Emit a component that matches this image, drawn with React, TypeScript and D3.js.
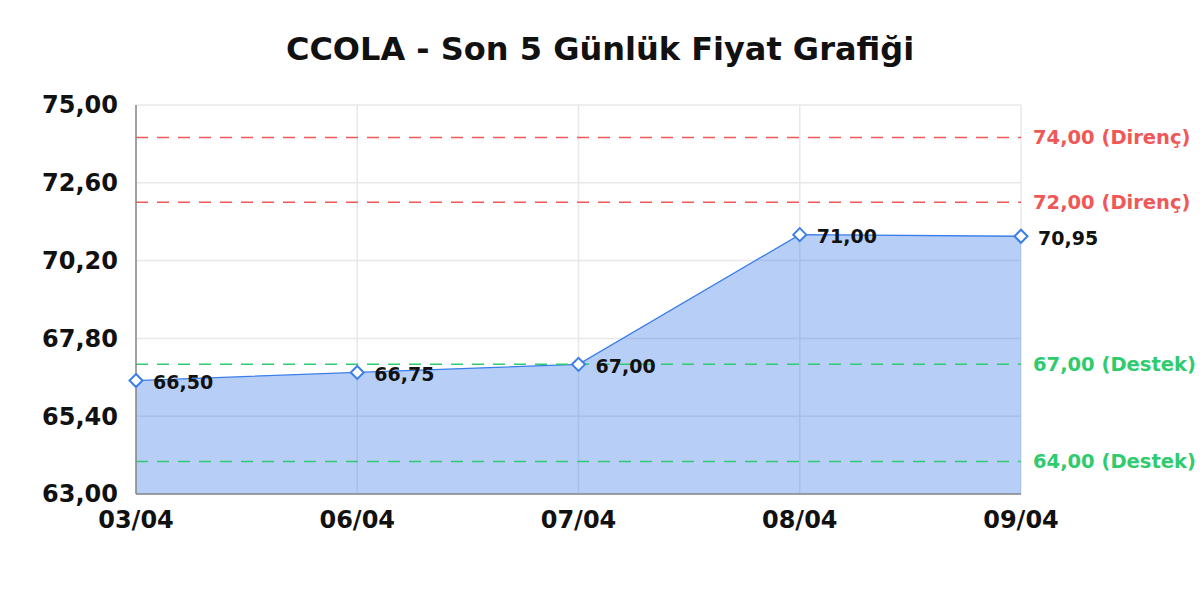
import React from 'react';
import * as d3 from 'd3';

// Chart data
const dates = ['03/04', '06/04', '07/04', '08/04', '09/04'];
const prices = [66.5, 66.75, 67.0, 71.0, 70.95];
const yTicks = [63, 65.4, 67.8, 70.2, 72.6, 75];
const resistance = [74, 72];
const support = [67, 64];

const W = 1200;
const H = 600;
const margin = { top: 105, right: 179, bottom: 106, left: 136 };
const FONT = '"DejaVu Sans", sans-serif';
const BLUE = '#3b7ee9';
const RED = '#f05858';
const GREEN = '#2fcb6e';

const fmt = (v: number) => v.toFixed(2).replace('.', ',');

const App: React.FC = () => {
  const innerW = W - margin.left - margin.right;
  const innerH = H - margin.top - margin.bottom;

  const x = d3.scalePoint<string>().domain(dates).range([0, innerW]);
  const y = d3.scaleLinear().domain([63, 75]).range([innerH, 0]);

  const points = dates.map((d, i) => ({ date: d, value: prices[i] }));

  const area = d3
    .area<{ date: string; value: number }>()
    .x(d => x(d.date) as number)
    .y0(innerH)
    .y1(d => y(d.value));

  const line = d3
    .line<{ date: string; value: number }>()
    .x(d => x(d.date) as number)
    .y(d => y(d.value));

  const diamond = 'M0,-6.5L6.5,0L0,6.5L-6.5,0Z';

  const refLines = [
    ...resistance.map(v => ({ v, color: RED, label: `${fmt(v)} (Direnç)` })),
    ...support.map(v => ({ v, color: GREEN, label: `${fmt(v)} (Destek)` }))
  ];

  return (
    <svg width={W} height={H} style={{ display: 'block', position: 'absolute', left: 0, top: 0 }}>
      <rect width={W} height={H} fill="#fff" />
      <text
        x={W / 2}
        y={60}
        textAnchor="middle"
        fontFamily={FONT}
        fontWeight="bold"
        fontSize={32}
        fill="#111"
      >
        CCOLA - Son 5 Günlük Fiyat Grafiği
      </text>

      <g transform={`translate(${margin.left},${margin.top})`}>
        {/* grid */}
        {yTicks.map(t => (
          <line key={`gy${t}`} x1={0} x2={innerW} y1={y(t)} y2={y(t)} stroke="#e8e8e8" strokeWidth={1.5} />
        ))}
        {dates.map(d => (
          <line key={`gx${d}`} x1={x(d)} x2={x(d)} y1={0} y2={innerH} stroke="#e8e8e8" strokeWidth={1.5} />
        ))}

        {/* area + line */}
        <path d={area(points) || ''} fill={BLUE} fillOpacity={0.37} />
        <path d={line(points) || ''} fill="none" stroke={BLUE} strokeWidth={1.3} />

        {/* support / resistance */}
        {refLines.map(r => (
          <g key={`r${r.v}`}>
            <line
              x1={0}
              x2={innerW}
              y1={y(r.v)}
              y2={y(r.v)}
              stroke={r.color}
              strokeWidth={1.5}
              strokeDasharray="12,9"
            />
            <text
              x={innerW + 12}
              y={y(r.v)}
              dy="0.35em"
              fontFamily={FONT}
              fontWeight="bold"
              fontSize={19.5}
              fill={r.color}
            >
              {r.label}
            </text>
          </g>
        ))}

        {/* axes */}
        <line x1={0} x2={0} y1={0} y2={innerH} stroke="#888" strokeWidth={1.5} />
        <line x1={0} x2={innerW} y1={innerH} y2={innerH} stroke="#888" strokeWidth={1.5} />

        {yTicks.map(t => (
          <text
            key={`ty${t}`}
            x={-18}
            y={y(t)}
            dy="0.35em"
            textAnchor="end"
            fontFamily={FONT}
            fontWeight="bold"
            fontSize={24}
            fill="#111"
          >
            {fmt(t)}
          </text>
        ))}
        {dates.map(d => (
          <text
            key={`tx${d}`}
            x={x(d)}
            y={innerH + 34}
            textAnchor="middle"
            fontFamily={FONT}
            fontWeight="bold"
            fontSize={24}
            fill="#111"
          >
            {d}
          </text>
        ))}

        {/* markers + value labels */}
        {points.map(p => (
          <g key={`p${p.date}`} transform={`translate(${x(p.date)},${y(p.value)})`}>
            <path d={diamond} fill="#fff" stroke={BLUE} strokeWidth={2} />
            <text
              x={17}
              y={0}
              dy="0.45em"
              fontFamily={FONT}
              fontWeight="bold"
              fontSize={19}
              fill="#111"
            >
              {fmt(p.value)}
            </text>
          </g>
        ))}
      </g>
    </svg>
  );
};

export default App;
